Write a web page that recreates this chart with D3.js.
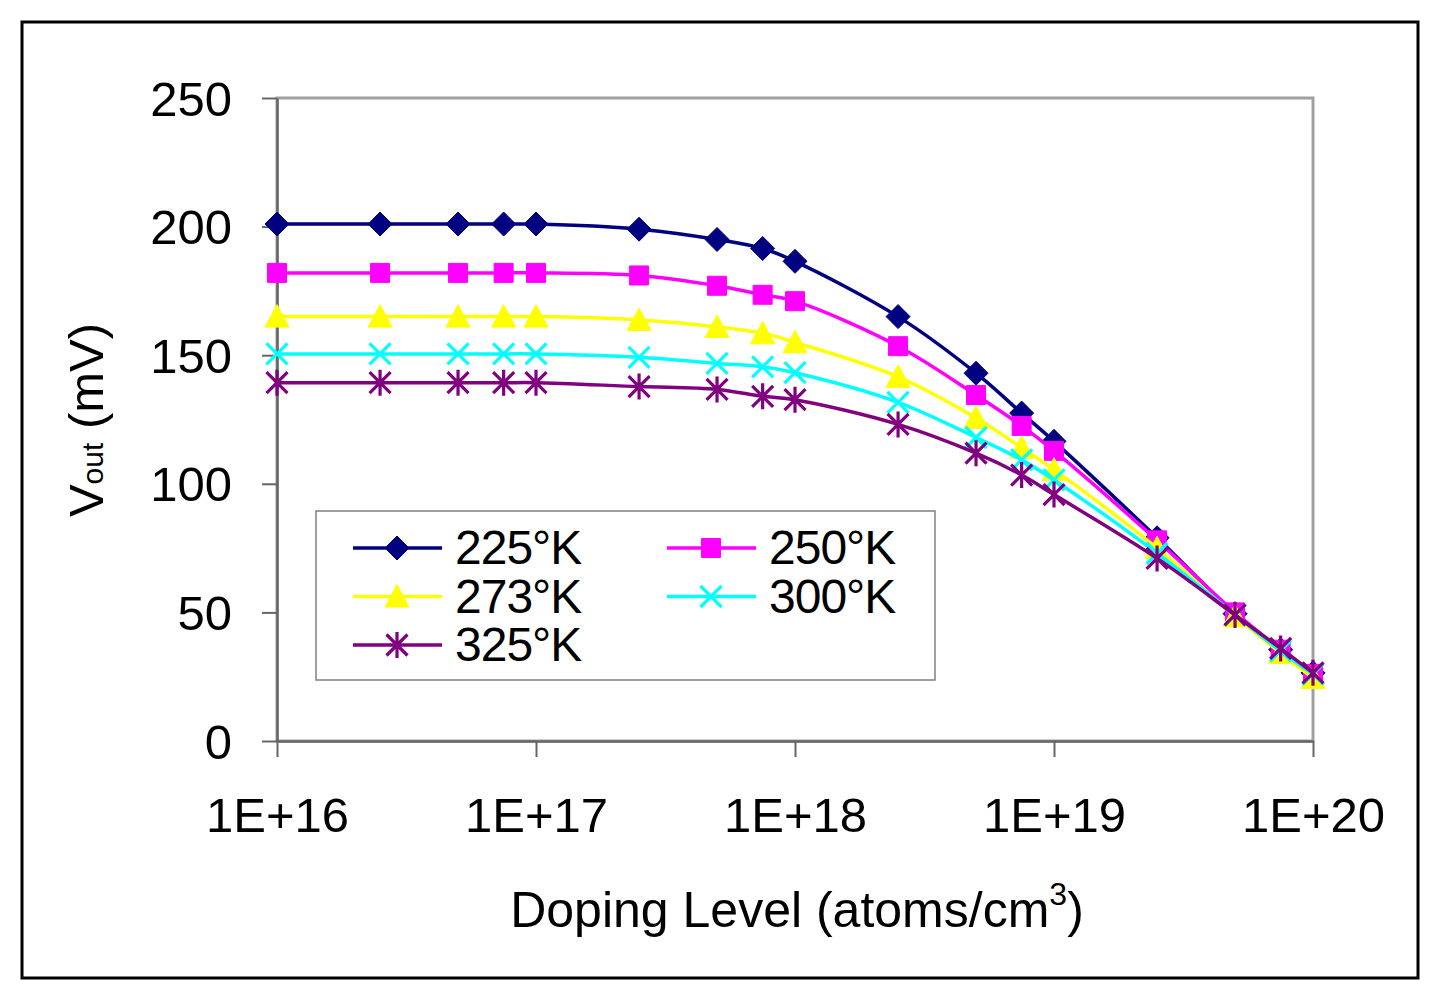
<!DOCTYPE html>
<html>
<head>
<meta charset="utf-8">
<script src="https://cdn.jsdelivr.net/npm/d3@7"></script>
<style>
  body { margin: 0; background: #fff; }
  text { font-family: "Liberation Sans", Arial, sans-serif; fill: #000; }
</style>
</head>
<body>
<svg></svg>
<script>
// Data: Vout (mV) vs doping level for each temperature
const dopingLevels = [1e16, 2.5e16, 5e16, 7.5e16, 1e17, 2.5e17, 5e17, 7.5e17, 1e18,
                      2.5e18, 5e18, 7.5e18, 1e19, 2.5e19, 5e19, 7.5e19, 1e20];
const vout225 = [201, 201, 201, 201, 201, 199, 195, 191.5, 186.5, 165, 143, 127.5, 116.5, 79, 49.5, 35.5, 26.5];
const vout250 = [182, 182, 182, 182, 182, 181, 177, 173.5, 171, 153.5, 134.5, 122.5, 112.8, 78, 50, 35.5, 26];
const vout273 = [165, 165, 165, 165, 165, 163.7, 161, 158.5, 155, 141.6, 125.6, 114, 105.5, 75, 48.5, 34.2, 24.5];
const vout300 = [150.5, 150.5, 150.5, 150.5, 150.5, 149.2, 146.8, 145.5, 143.2, 131.7, 118, 109.3, 101.5, 73, 49, 35, 26];
const vout325 = [139.3, 139.3, 139.3, 139.3, 139.3, 137.8, 136.7, 134, 132.7, 123.1, 111.9, 103.4, 95.8, 71, 49, 36, 26.5];

const seriesNames = ["225°K", "250°K", "273°K", "300°K", "325°K"];
const seriesValues = [vout225, vout250, vout273, vout300, vout325];
const seriesColors = ["#000080", "#ff00ff", "#ffff00", "#00ffff", "#800080"];
const seriesMarkers = ["diamond", "square", "triangle", "cross", "star"];

const yTicks = [0, 50, 100, 150, 200, 250];
const xTicks = [1e16, 1e17, 1e18, 1e19, 1e20];

// Grundinställningar
const svg = d3.select("svg").attr("width", 1441).attr("height", 1000);
const plot = { left: 277, right: 1313, top: 98, bottom: 741 };

const x = d3.scaleLog().domain([1e16, 1e20]).range([plot.left, plot.right]);
const y = d3.scaleLinear().domain([0, 250]).range([plot.bottom, plot.top]);

// outer frame
svg.append("rect")
    .attr("x", 22).attr("y", 22).attr("width", 1396).attr("height", 956)
    .attr("fill", "#fff").attr("stroke", "#000").attr("stroke-width", 3);

// plot area border
svg.append("rect")
    .attr("x", plot.left).attr("y", plot.top)
    .attr("width", plot.right - plot.left).attr("height", plot.bottom - plot.top)
    .attr("fill", "none").attr("stroke", "#a0a0a0").attr("stroke-width", 3);

// axes
const yAxis = svg.append("g")
    .attr("transform", `translate(${plot.left},0)`)
    .call(d3.axisLeft(y).tickValues(yTicks).tickSize(15).tickSizeOuter(0).tickPadding(30));
const xAxis = svg.append("g")
    .attr("transform", `translate(0,${plot.bottom})`)
    .call(d3.axisBottom(x).tickValues(xTicks).tickSize(16).tickSizeOuter(0).tickPadding(40)
        .tickFormat(d => "1E+" + Math.round(Math.log10(d))));

for (const ax of [yAxis, xAxis]) {
    ax.attr("font-size", null);
    ax.select(".domain").attr("stroke", "#666").attr("stroke-width", 2.5);
    ax.selectAll(".tick line").attr("stroke", "#666").attr("stroke-width", 2);
    ax.selectAll(".tick text").style("font-size", "49px").attr("fill", "#000")
        .style("font-family", '"Liberation Sans", Arial, sans-serif');
}
yAxis.selectAll(".tick text").attr("dy", "0.35em");

// marker shapes
function markerPath(type) {
    switch (type) {
        case "diamond": return "M0,-12L12,0L0,12L-12,0Z";
        case "square": return "M-9.5,-9.5H9.5V9.5H-9.5Z";
        case "triangle": return "M0,-12L12,10.5H-12Z";
        case "cross": return "M-10.5,-10.5L10.5,10.5M10.5,-10.5L-10.5,10.5";
        case "star": return "M-10.5,-10.5L10.5,10.5M10.5,-10.5L-10.5,10.5M0,-13V13";
    }
}
function drawMarker(sel, type, color) {
    const filled = type === "diamond" || type === "square" || type === "triangle";
    sel.append("path")
        .attr("d", markerPath(type))
        .attr("fill", filled ? color : "none")
        .attr("stroke", color)
        .attr("stroke-width", filled ? 1 : 3.2);
}

const line = d3.line()
    .x(d => x(d[0]))
    .y(d => y(d[1]))
    .curve(d3.curveCatmullRom.alpha(0.5));

seriesValues.forEach((vals, i) => {
    const pts = dopingLevels.map((d, j) => [d, vals[j]]);
    const g = svg.append("g");
    g.append("path")
        .datum(pts)
        .attr("d", line)
        .attr("fill", "none")
        .attr("stroke", seriesColors[i])
        .attr("stroke-width", 3.5);
    g.selectAll("g.m")
        .data(pts)
        .enter().append("g")
        .attr("class", "m")
        .attr("transform", d => `translate(${x(d[0])},${y(d[1])})`)
        .each(function () { drawMarker(d3.select(this), seriesMarkers[i], seriesColors[i]); });
});

// legend
const legend = svg.append("g");
legend.append("rect")
    .attr("x", 316).attr("y", 511).attr("width", 619).attr("height", 169)
    .attr("fill", "#fff").attr("stroke", "#808080").attr("stroke-width", 1.5);

seriesNames.forEach((name, i) => {
    const col = i % 2, row = Math.floor(i / 2);
    const lx = 353 + col * 314;
    const ly = 548 + row * 48.5;
    const item = legend.append("g");
    item.append("line")
        .attr("x1", lx).attr("x2", lx + 89).attr("y1", ly).attr("y2", ly)
        .attr("stroke", seriesColors[i]).attr("stroke-width", 3.5);
    drawMarker(item.append("g").attr("transform", `translate(${lx + 44},${ly})`),
        seriesMarkers[i], seriesColors[i]);
    item.append("text")
        .attr("x", lx + 102).attr("y", ly + 16)
        .style("font-size", "48px")
        .style("letter-spacing", "-1px")
        .text(name);
});

// axis titles
const xt = svg.append("text")
    .attr("x", 797).attr("y", 927)
    .attr("text-anchor", "middle")
    .style("font-size", "50px");
xt.append("tspan").text("Doping Level (atoms/cm");
xt.append("tspan").attr("dy", -22).style("font-size", "32px").text("3");
xt.append("tspan").attr("dy", 22).text(")");

const yt = svg.append("text")
    .attr("transform", "translate(103,420) rotate(-90)")
    .attr("text-anchor", "middle")
    .style("font-size", "49px");
yt.append("tspan").text("V");
yt.append("tspan").style("font-size", "30px").text("out");
yt.append("tspan").text(" (mV)");
</script>
</body>
</html>
